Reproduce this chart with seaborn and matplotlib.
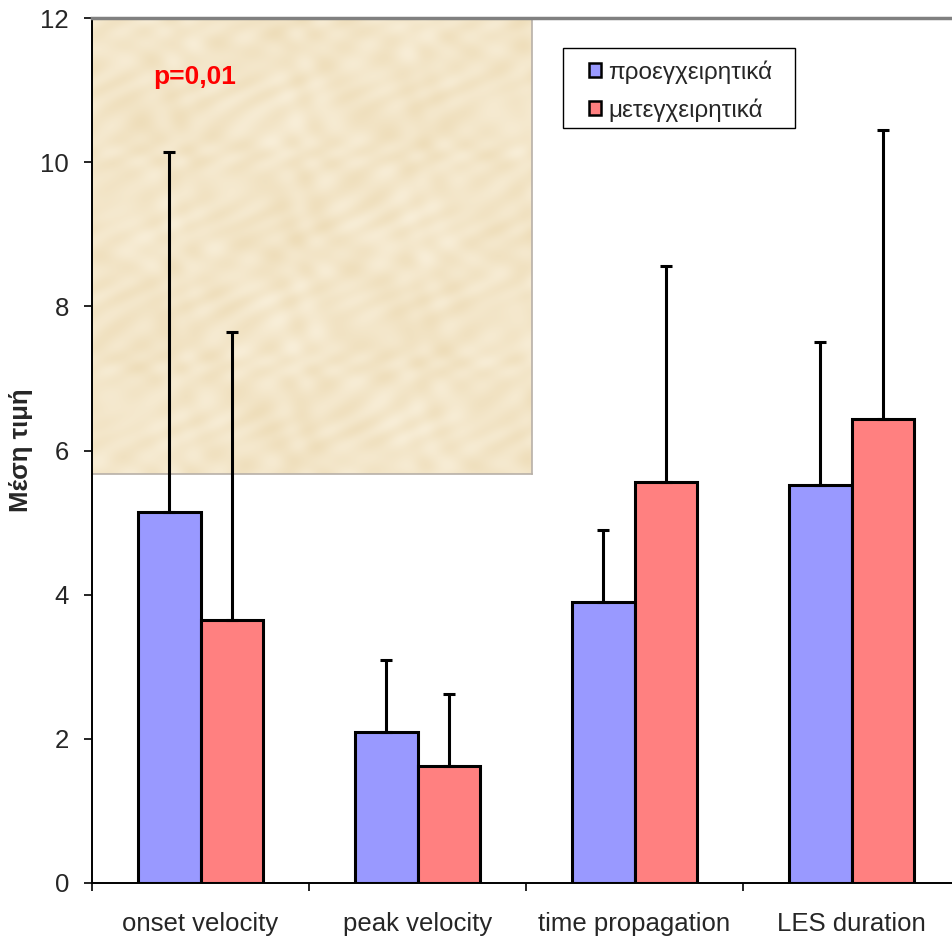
import matplotlib.pyplot as plt
import numpy as np
import pandas as pd
import seaborn as sns
from matplotlib.patches import Rectangle

# values
params = ['onset velocity', 'peak velocity', 'time propagation', 'LES duration']
groups = ['προεγχειρητικά', 'μετεγχειρητικά']
pre_mean = [5.15, 2.09, 3.90, 5.52]
pre_sd = [4.99, 1.00, 1.00, 1.98]
post_mean = [3.65, 1.62, 5.56, 6.44]
post_sd = [3.99, 1.00, 3.00, 4.00]

df = pd.DataFrame({
    'param': params * 2,
    'group': [groups[0]] * 4 + [groups[1]] * 4,
    'mean': pre_mean + post_mean,
    'sd': pre_sd + post_sd,
})

sns.set_style('white')
plt.rcParams['font.family'] = ['Liberation Sans', 'DejaVu Sans']

W, H = 952, 942
fig = plt.figure(figsize=(W / 100, H / 100), dpi=100)

# axes geometry (pixels from reference)
ax_l, ax_r, ax_t, ax_b = 92, 960, 18, 883
rect = [ax_l / W, (H - ax_b) / H, (ax_r - ax_l) / W, (ax_b - ax_t) / H]

# parchment-like fill behind the upper-left part of the plot area
tex_r, tex_b = 532, 474
bg = fig.add_axes([ax_l / W, (H - tex_b) / H, (tex_r - ax_l) / W, (tex_b - ax_t) / H],
                  zorder=0)
yy, xx = np.mgrid[0:456, 0:440].astype(float)
t = (np.sin(xx / 9.3 + np.cos(yy / 17.0) * 2) * np.cos(yy / 7.1 + np.sin(xx / 23.0))
     + 0.7 * np.sin((xx * 0.8 + yy * 1.3) / 5.7 + np.sin(yy / 11.0))
     + 0.6 * np.cos((xx * 1.7 - yy) / 13.0 + np.cos(xx / 19.0) * 1.5)
     + 0.8 * np.sin(xx / 41.0) * np.cos(yy / 33.0))
t = (t - t.min()) / (t.max() - t.min())
c_dark = np.array([0xEE, 0xDD, 0xB9]) / 255
c_light = np.array([0xF8, 0xEE, 0xD8]) / 255
img = c_dark + (c_light - c_dark) * t[..., None]
bg.imshow(img, aspect='auto', interpolation='bilinear')
bg.set_xticks([])
bg.set_yticks([])
for s in bg.spines.values():
    s.set_color('#b8b0a8')
    s.set_linewidth(1.2)

ax = fig.add_axes(rect, zorder=1)
ax.patch.set_alpha(0)

palette = ['#9999FF', '#FF8080']
sns.barplot(data=df, x='param', y='mean', hue='group', order=params,
            hue_order=groups, palette=palette, saturation=1, edgecolor='black',
            linewidth=2.2, width=0.572, errorbar=None, ax=ax, legend=True)

# upward-only error bars
for cont, sd in zip(ax.containers, [pre_sd, post_sd]):
    for bar, e in zip(cont, sd):
        xc = bar.get_x() + bar.get_width() / 2
        ax.errorbar(xc, bar.get_height(), yerr=[[0], [e]], fmt='none',
                    ecolor='black', elinewidth=2.2, capsize=4.5, capthick=2.2,
                    zorder=3)

ax.set_xlim(-0.5, 3.5)
ax.set_ylim(0, 12)
ax.set_yticks(np.arange(0, 13, 2))
ax.tick_params(axis='y', labelsize=18.5, length=6, width=1.2, pad=10.5,
               direction='out', left=True, color='black')
ax.set_xticks(range(4))
ax.set_xticklabels(params)
ax.set_xticks(np.arange(-0.5, 4, 1), minor=True)
ax.tick_params(axis='x', which='major', labelsize=18.5, length=0, pad=21)
ax.tick_params(axis='x', which='minor', length=6, width=1.2, bottom=True,
               direction='out', color='black')

ax.set_xlabel('')
ax.set_ylabel('Μέση τιμή', fontsize=18.5, fontweight='bold')
ax.yaxis.set_label_coords(-0.068, 0.5)

ax.spines['left'].set_color('black')
ax.spines['left'].set_linewidth(1.4)
ax.spines['bottom'].set_color('black')
ax.spines['bottom'].set_linewidth(1.4)
ax.spines['top'].set_color('#808080')
ax.spines['top'].set_linewidth(2.5)
ax.spines['right'].set_color('#808080')

ax.text((195 - ax_l) / (ax_r - ax_l), (ax_b - 77) / (ax_b - ax_t), 'p=0,01',
        transform=ax.transAxes, color='red', fontsize=19, fontweight='bold',
        ha='center', va='center')

# legend entries, with a separate frame box sized like the reference
leg = ax.legend(loc='upper left',
                bbox_to_anchor=((589 - ax_l) / (ax_r - ax_l), (ax_b - 60) / (ax_b - ax_t)),
                frameon=False, fontsize=17.5, handlelength=0.5,
                handleheight=0.5, handletextpad=0.3, borderpad=0,
                labelspacing=0.6, borderaxespad=0)
for h in leg.legend_handles:
    h.set_edgecolor('black')
    h.set_linewidth(1.8)
leg.set_zorder(6)
frame = Rectangle((563 / W, (H - 128) / H), (795 - 563) / W, 80 / H,
                  transform=fig.transFigure, facecolor='white',
                  edgecolor='black', linewidth=1.0, zorder=5, clip_on=False)
ax.add_patch(frame)

fig.savefig('out.png', dpi=100)
